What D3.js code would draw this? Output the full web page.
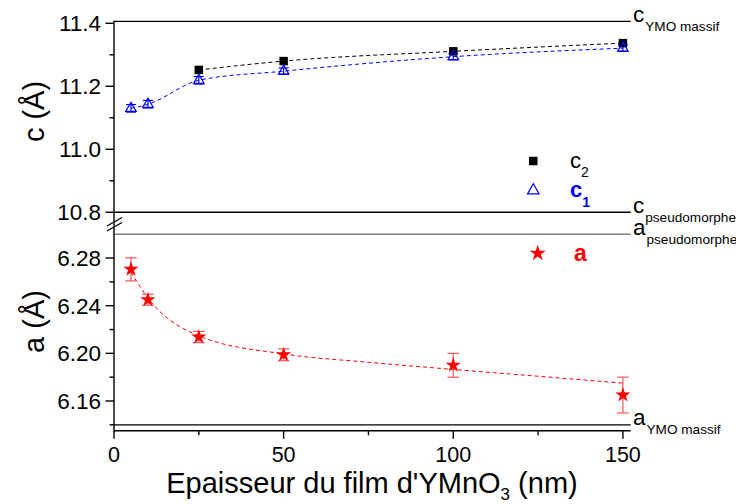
<!DOCTYPE html>
<html>
<head>
<meta charset="utf-8">
<script src="https://cdn.jsdelivr.net/npm/d3@7"></script>
<style>
  html, body { margin: 0; padding: 0; background: #fff; }
  svg { display: block; font-family: "Liberation Sans", Arial, Helvetica, sans-serif; }
</style>
</head>
<body>
<svg id="chart" width="736" height="504"></svg>
<script>
// ---------- data ----------
const thickness = [5, 10, 25, 50, 100, 150];
const c2Thickness = [25, 50, 100, 150];
const c2Values = [11.252, 11.280, 11.311, 11.337];
const c1Values = [11.130, 11.143, 11.219, 11.248, 11.294, 11.321];
const c1Errors = [0.012, 0.012, 0.012, 0.010, 0.010, 0.010];
const aValues = [6.2705, 6.245, 6.2137, 6.1988, 6.190, 6.1650];
const aErrors = [0.0097, 0.0046, 0.0047, 0.0050, 0.0100, 0.0150];
const aFitX = [5, 10, 25, 50, 75, 100, 125, 150];
const aFitValues = [6.268, 6.2465, 6.2147, 6.1995, 6.1925, 6.1865, 6.1808, 6.1750];
const cRefValues = [11.406, 10.8];          // c YMO massif, c pseudomorphe
const cRefLabels = ["YMO massif", "pseudomorphe"];
const aRefValues = [6.30, 6.14];            // a pseudomorphe, a YMO massif
const aRefLabels = ["pseudomorphe", "YMO massif"];
const xTicks = [0, 50, 100, 150];
const xMinorTicks = [25, 75, 125];
const cTicks = [10.8, 11.0, 11.2, 11.4];
const cMinorTicks = [10.9, 11.1, 11.3];
const aTicks = [6.16, 6.20, 6.24, 6.28];
const aMinorTicks = [6.14, 6.18, 6.22, 6.26];

// ---------- scales ----------
const svg = d3.select("#chart");
const x = d3.scaleLinear().domain([0, 152.3]).range([114, 630.7]);
const yc = d3.scaleLinear().domain([10.8, 11.406]).range([212.3, 21.4]);
const ya = d3.scaleLinear().domain([6.135, 6.30]).range([430.8, 234.2]);

// ---------- reference lines ----------
function refLine(y, color) {
  svg.append("line").attr("x1", x(0)).attr("x2", x(152.3))
    .attr("y1", y).attr("y2", y).attr("stroke", color).attr("stroke-width", 1.4);
}
refLine(yc(cRefValues[0]), "#000");
refLine(yc(cRefValues[1]), "#000");
refLine(ya(aRefValues[0]), "#808080");
refLine(ya(aRefValues[1]), "#000");

function refLabel(y, main, sub) {
  const t = svg.append("text").attr("x", 633).attr("y", y + 0.5)
    .attr("font-size", 22.5).attr("fill", "#000");
  t.append("tspan").text(main);
  t.append("tspan").attr("dy", 9).attr("dx", 1).attr("font-size", 13.6).text(sub);
}
refLabel(yc(cRefValues[0]), "c", cRefLabels[0]);
refLabel(yc(cRefValues[1]), "c", cRefLabels[1]);
refLabel(ya(aRefValues[0]), "a", aRefLabels[0]);
refLabel(ya(aRefValues[1]), "a", aRefLabels[1]);

// ---------- axes ----------
const ax = svg.append("g");
ax.append("line").attr("x1", x(0)).attr("x2", x(0))
  .attr("y1", yc(cRefValues[0]) - 0.7).attr("y2", ya(6.135) + 0.7)
  .attr("stroke", "#000").attr("stroke-width", 1.4);
ax.append("line").attr("x1", x(0)).attr("x2", x(152.3))
  .attr("y1", ya(6.135)).attr("y2", ya(6.135))
  .attr("stroke", "#000").attr("stroke-width", 1.4);

// break marks
const brk = svg.append("g").attr("stroke", "#000").attr("stroke-width", 1.3);
brk.append("line").attr("x1", 107).attr("y1", 226).attr("x2", 122).attr("y2", 217.5);
brk.append("line").attr("x1", 107).attr("y1", 231).attr("x2", 122).attr("y2", 222.5);

function yTicks(scale, major, minor, fmt) {
  major.forEach(v => {
    ax.append("line").attr("x1", x(0) - 8.5).attr("x2", x(0))
      .attr("y1", scale(v)).attr("y2", scale(v)).attr("stroke", "#000").attr("stroke-width", 1.4);
    ax.append("text").attr("x", 101).attr("y", scale(v)).attr("dy", "0.36em")
      .attr("text-anchor", "end").attr("font-size", 22.5).text(fmt(v));
  });
  minor.forEach(v => {
    ax.append("line").attr("x1", x(0) - 4.5).attr("x2", x(0))
      .attr("y1", scale(v)).attr("y2", scale(v)).attr("stroke", "#000").attr("stroke-width", 1.4);
  });
}
yTicks(yc, cTicks, cMinorTicks, d3.format(".1f"));
yTicks(ya, aTicks, aMinorTicks, d3.format(".2f"));

xTicks.forEach(v => {
  ax.append("line").attr("x1", x(v)).attr("x2", x(v))
    .attr("y1", ya(6.135)).attr("y2", ya(6.135) + 8).attr("stroke", "#000").attr("stroke-width", 1.4);
  ax.append("text").attr("x", x(v)).attr("y", 462).attr("text-anchor", "middle")
    .attr("font-size", 21.5).text(v);
});
xMinorTicks.forEach(v => {
  ax.append("line").attr("x1", x(v)).attr("x2", x(v))
    .attr("y1", ya(6.135)).attr("y2", ya(6.135) + 4.5).attr("stroke", "#000").attr("stroke-width", 1.4);
});

// axis titles
const xt = svg.append("text").attr("x", 372).attr("y", 493).attr("text-anchor", "middle")
  .attr("font-size", 29);
xt.append("tspan").text("Epaisseur du film d'YMnO");
xt.append("tspan").attr("dy", 7).attr("font-size", 17).text("3");
xt.append("tspan").attr("dy", -7).text(" (nm)");

svg.append("text").attr("transform", "translate(44,111.5) rotate(-90)")
  .attr("text-anchor", "middle").attr("font-size", 29).text("c (Å)");
svg.append("text").attr("transform", "translate(44,321.5) rotate(-90)")
  .attr("text-anchor", "middle").attr("font-size", 29).text("a (Å)");

// ---------- fit lines ----------
const lineC = d3.line().x(d => x(d[0])).y(d => yc(d[1])).curve(d3.curveMonotoneX);
const lineA = d3.line().x(d => x(d[0])).y(d => ya(d[1])).curve(d3.curveMonotoneX);

svg.append("path").datum(c2Thickness.map((t, i) => [t, c2Values[i]]))
  .attr("d", lineC).attr("fill", "none").attr("stroke", "#000")
  .attr("stroke-width", 1).attr("stroke-dasharray", "4,3");
svg.append("path").datum(thickness.map((t, i) => [t, c1Values[i]]))
  .attr("d", lineC).attr("fill", "none").attr("stroke", "#0000ff")
  .attr("stroke-width", 1).attr("stroke-dasharray", "4,3");
svg.append("path").datum(aFitX.map((t, i) => [t, aFitValues[i]]))
  .attr("d", lineA).attr("fill", "none").attr("stroke", "#ff0000")
  .attr("stroke-width", 1).attr("stroke-dasharray", "4,3");

// ---------- error bars ----------
function errBars(xs, vals, errs, scale, color, cap) {
  const g = svg.append("g").attr("stroke", color).attr("stroke-width", 1.2);
  xs.forEach((t, i) => {
    const y1 = scale(vals[i] - errs[i]), y2 = scale(vals[i] + errs[i]);
    g.append("line").attr("x1", x(t)).attr("x2", x(t)).attr("y1", y1).attr("y2", y2);
    g.append("line").attr("x1", x(t) - cap).attr("x2", x(t) + cap).attr("y1", y1).attr("y2", y1);
    g.append("line").attr("x1", x(t) - cap).attr("x2", x(t) + cap).attr("y1", y2).attr("y2", y2);
  });
}
errBars(thickness, c1Values, c1Errors, yc, "#0000ff", 5);
errBars(thickness, aValues, aErrors, ya, "#ff5555", 5.8);

// ---------- markers ----------
const sq = d3.symbol().type(d3.symbolSquare).size(72);
const tri = d3.symbol().type(d3.symbolTriangle).size(48);
const star = d3.symbol().type(d3.symbolStar).size(72);

svg.append("g").selectAll("path").data(c2Thickness).join("path")
  .attr("transform", (t, i) => `translate(${x(t)},${yc(c2Values[i])})`)
  .attr("d", sq).attr("fill", "#000");
svg.append("g").selectAll("path").data(thickness).join("path")
  .attr("transform", (t, i) => `translate(${x(t)},${yc(c1Values[i])})`)
  .attr("d", tri).attr("fill", "none").attr("stroke", "#0000ff").attr("stroke-width", 1.2);
svg.append("g").selectAll("path").data(thickness).join("path")
  .attr("transform", (t, i) => `translate(${x(t)},${ya(aValues[i])})`)
  .attr("d", star).attr("fill", "#ff0000");

// ---------- legends ----------
svg.append("path").attr("transform", "translate(533.3,161)").attr("d", sq).attr("fill", "#000");
const l2 = svg.append("text").attr("x", 570).attr("y", 168.3).attr("font-size", 22).attr("fill", "#000");
l2.append("tspan").text("c");
l2.append("tspan").attr("dy", 9).attr("font-size", 14).text("2");

svg.append("path").attr("transform", "translate(533.3,190.5)")
  .attr("d", d3.symbol().type(d3.symbolTriangle).size(58))
  .attr("fill", "none").attr("stroke", "#0000ff").attr("stroke-width", 1.2);
const l1 = svg.append("text").attr("x", 570).attr("y", 196.7).attr("font-size", 22)
  .attr("font-weight", "bold").attr("fill", "#0000ff");
l1.append("tspan").text("c");
l1.append("tspan").attr("dy", 10).attr("font-size", 14).text("1");

svg.append("path").attr("transform", "translate(537.7,253.3)")
  .attr("d", d3.symbol().type(d3.symbolStar).size(80)).attr("fill", "#ff0000");
svg.append("text").attr("x", 574).attr("y", 260.7).attr("font-size", 23)
  .attr("font-weight", "bold").attr("fill", "#ff0000").text("a");
</script>
</body>
</html>
